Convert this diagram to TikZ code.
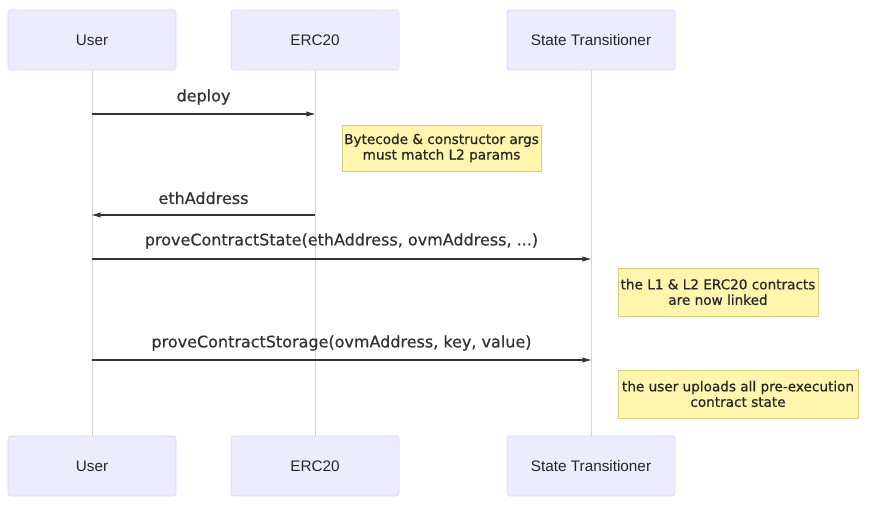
\documentclass[tikz,border=0pt]{standalone}
\usepackage{fontspec}
\setmainfont{Liberation Sans}
\newfontfamily\msgfont[FakeBold=0.6]{DejaVu Sans}
\usetikzlibrary{arrows.meta}
\definecolor{actfill}{HTML}{ECECFF}
\definecolor{actdraw}{HTML}{DDD6F6}
\definecolor{notefill}{HTML}{FFF5AD}
\definecolor{notedraw}{HTML}{D8CF7E}
\definecolor{lifegray}{HTML}{D4D4D4}
\definecolor{msgcol}{HTML}{333333}
\begin{document}
\begin{tikzpicture}[x=1pt,y=-1pt,
  actor/.style={draw=actdraw, fill=actfill, rounded corners=3pt, line width=0.8pt,
    minimum width=168pt, minimum height=60pt, inner sep=0pt,
    font=\fontsize{15.3}{18}\selectfont, text=black!85},
  notebox/.style={draw=notedraw, fill=notefill, line width=0.8pt, inner sep=0pt,
    align=center, font=\msgfont\fontsize{13.6}{15.5}\selectfont, text=black!85},
  lifeline/.style={draw=lifegray, line width=1pt},
  msg/.style={draw=msgcol, line width=1.2pt, -{Stealth[length=9pt,width=5pt,inset=1.5pt]}},
  msglabel/.style={font=\msgfont\fontsize{16}{18}\selectfont, text=msgcol, inner sep=0pt}]
\useasboundingbox (0,0) rectangle (874,505);
% actors
\node[actor] (u1) at (92,40) {User};
\node[actor] (e1) at (315,40) {ERC20};
\node[actor] (s1) at (591,40) {State Transitioner};
\node[actor] (u2) at (92,466) {User};
\node[actor] (e2) at (315,466) {ERC20};
\node[actor] (s2) at (591,466) {State Transitioner};
% lifelines
\draw[lifeline] (u1) -- (u2);
\draw[lifeline] (e1) -- (e2);
\draw[lifeline] (s1) -- (s2);
% messages
\coordinate (d1) at (u1 |- 0,114);
\coordinate (d2) at (e1 |- 0,114);
\draw[msg] (d1) -- (d2);
\node[msglabel] (l1) at (203.5,97) {deploy};

\node[notebox, minimum width=199pt, minimum height=46pt] (n1) at (441.5,148)
  {Bytecode \& constructor args\\must match L2 params};

\coordinate (a1) at (e1 |- 0,215);
\coordinate (a2) at (u1 |- 0,215);
\draw[msg] (a1) -- (a2);
\node[msglabel] (l2) at (203.5,198) {ethAddress};

\coordinate (p1) at (u1 |- 0,259);
\coordinate (p2) at (s1 |- 0,259);
\draw[msg] (p1) -- (p2);
\node[msglabel] (l3) at (341.5,241) {proveContractState(ethAddress, ovmAddress, ...)};

\node[notebox, minimum width=200pt, minimum height=48pt] (n2) at (718,292)
  {the L1 \& L2 ERC20 contracts\\are now linked};

\coordinate (q1) at (u1 |- 0,360);
\coordinate (q2) at (s1 |- 0,360);
\draw[msg] (q1) -- (q2);
\node[msglabel] (l4) at (341.5,343) {proveContractStorage(ovmAddress, key, value)};

\node[notebox, minimum width=240pt, minimum height=48pt] (n3) at (738,394)
  {the user uploads all pre-execution\\contract state};
\end{tikzpicture}
\end{document}
